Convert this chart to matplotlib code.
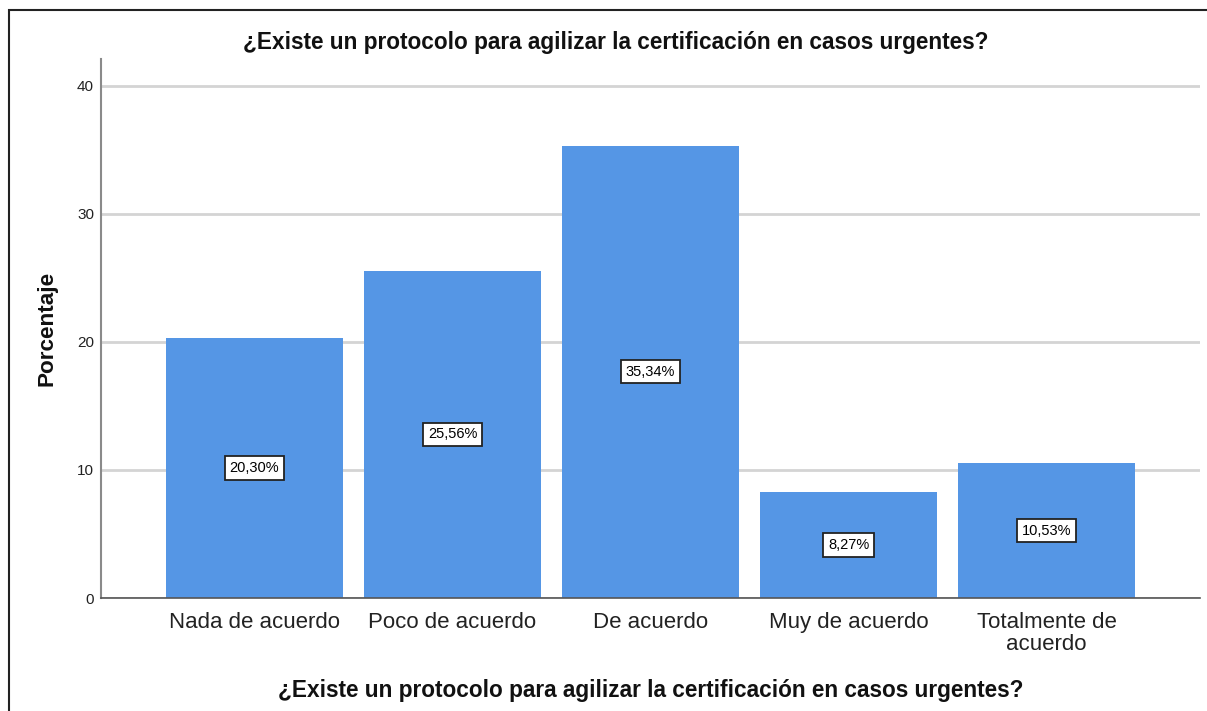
import matplotlib
matplotlib.use("Agg")
import matplotlib.pyplot as plt
from matplotlib.patches import Rectangle

plt.rcParams['font.family'] = ['Liberation Sans', 'DejaVu Sans']

categories = ["Nada de acuerdo", "Poco de acuerdo", "De acuerdo", "Muy de acuerdo", "Totalmente de\nacuerdo"]
values = [20.30, 25.56, 35.34, 8.27, 10.53]
yticks = [0, 10, 20, 30, 40]
title = "¿Existe un protocolo para agilizar la certificación en casos urgentes?"

W, H = 1207, 711
fig = plt.figure(figsize=(W / 100, H / 100), dpi=100)
ax = fig.add_axes([101 / W, 1 - 598 / H, (1200 - 101) / W, (598 - 59) / H])

x = list(range(len(categories)))
bars = ax.bar(x, values, width=0.894, color="#5596E5", zorder=2)
for xi, v in zip(x, values):
    ax.text(xi, v / 2, f"{v:.2f}".replace(".", ",") + "%", ha="center", va="center",
            fontsize=10.5, zorder=3,
            bbox=dict(boxstyle="square,pad=0.32", facecolor="white", edgecolor="#222222", linewidth=1.3))

ax.set_xlim(-0.775, 4.775)
ax.set_ylim(0, 42.1)
ax.set_yticks(yticks)
ax.set_yticklabels([str(t) for t in yticks], fontsize=11, color="#222222")
ax.set_xticks(x)
ax.set_xticklabels(categories, fontsize=16, color="#222222", linespacing=1.05)
ax.tick_params(axis="y", length=0, pad=5)
ax.tick_params(axis="x", length=0, pad=10)
ax.yaxis.grid(True, color="#d4d4d4", linewidth=2, zorder=0)
ax.set_axisbelow(True)
for s in ["top", "right"]:
    ax.spines[s].set_visible(False)
ax.spines["left"].set_color("#8a8a8a")
ax.spines["left"].set_linewidth(1.5)
ax.spines["bottom"].set_color("#555555")
ax.spines["bottom"].set_linewidth(1.2)

fig.text(616 / W, 1 - 43 / H, title, ha="center", va="center", fontsize=16.3, fontweight="bold", color="#111111")
fig.text(651 / W, 1 - 690 / H, title, ha="center", va="center", fontsize=16.3, fontweight="bold", color="#111111")
fig.text(47 / W, 1 - 328 / H, "Porcentaje", ha="center", va="center", rotation=90, fontsize=16.2, fontweight="bold", color="#111111")

fig.patches.append(Rectangle((8.5 / W, -0.1), 1.2, 1 - 9.5 / H + 0.1, transform=fig.transFigure,
                             fill=False, edgecolor="#222222", linewidth=1.5, figure=fig))

fig.savefig("out.png", dpi=100)
